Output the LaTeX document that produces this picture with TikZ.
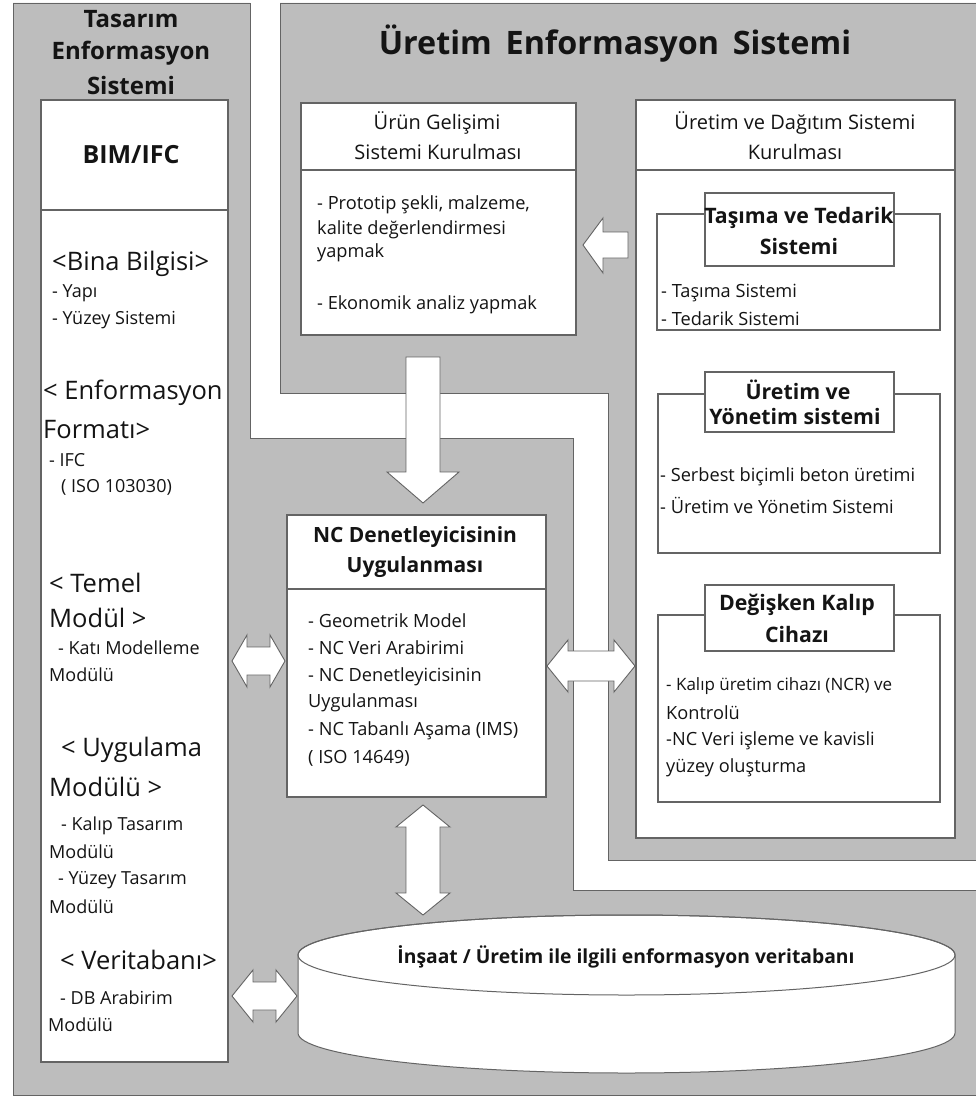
\documentclass[tikz,border=0pt]{standalone}
\usepackage{fontspec}
\setmainfont{Open Sans}
\definecolor{panel}{RGB}{189,189,189}
\definecolor{edge}{RGB}{100,100,100}
\definecolor{ink}{RGB}{20,20,20}
\tikzset{
  region/.style={fill=panel,draw=edge,line width=0.9pt},
  wbox/.style={fill=white,draw=edge,line width=1.1pt,anchor=north west,inner sep=0pt,outer sep=0pt},
  blk/.style={fill=white,draw=edge,line width=0.9pt,line join=miter},
  divline/.style={draw=edge,line width=1.1pt},
  ltxt/.style={inner sep=0pt,anchor=west,text=ink,font=\fontsize{18}{20}\selectfont},
  lbig/.style={inner sep=0pt,anchor=west,text=ink,font=\fontsize{25.5}{28}\selectfont},
  rtxt/.style={inner sep=0pt,anchor=west,text=ink,font=\fontsize{18.2}{20}\selectfont},
  hdr/.style={inner sep=0pt,anchor=center,text=ink,font=\fontsize{20}{22}\selectfont},
  hdrb/.style={inner sep=0pt,anchor=center,text=ink,font=\bfseries\fontsize{21}{23}\selectfont},
  lab/.style={inner sep=0pt,anchor=center,text=ink,font=\bfseries\fontsize{21.3}{23}\selectfont},
}
\newcommand{\hdarrow}[6]{% x1,x2,yc,headhalf,shafthalf,headlen
  \draw[blk] (#1,#3) -- ({#1+#6},{#3-#4}) -- ({#1+#6},{#3-#5}) -- ({#2-#6},{#3-#5}) -- ({#2-#6},{#3-#4}) -- (#2,#3) -- ({#2-#6},{#3+#4}) -- ({#2-#6},{#3+#5}) -- ({#1+#6},{#3+#5}) -- ({#1+#6},{#3+#4}) -- cycle;}
\newcommand{\vdarrow}[6]{% y1,y2,xc,headhalf,shafthalf,headlen
  \draw[blk] (#3,#1) -- ({#3+#4},{#1+#6}) -- ({#3+#5},{#1+#6}) -- ({#3+#5},{#2-#6}) -- ({#3+#4},{#2-#6}) -- (#3,#2) -- ({#3-#4},{#2-#6}) -- ({#3-#5},{#2-#6}) -- ({#3-#5},{#1+#6}) -- ({#3-#4},{#1+#6}) -- cycle;}
\begin{document}
\begin{tikzpicture}[x=1pt,y=-1pt]
\useasboundingbox (0,0) rectangle (976,1102);
\clip (0,0) rectangle (976,1102);
% gray regions
\draw[region] (13,3) -- (250,3) -- (250,438) -- (573,438) -- (573,890) -- (990,890) -- (990,1095) -- (13,1095) -- cycle;
\draw[region] (280,3) -- (990,3) -- (990,860) -- (608,860) -- (608,393) -- (280,393) -- cycle;

% left panel title
\node[inner sep=0pt,text=ink,font=\bfseries\fontsize{24}{26}\selectfont] (tas1) at (131,19) {Tasarım};
\node[inner sep=0pt,text=ink,font=\bfseries\fontsize{24}{26}\selectfont] (tas2) at (131,53) {Enformasyon};
\node[inner sep=0pt,text=ink,font=\bfseries\fontsize{24}{26}\selectfont] (tas3) at (131,86) {Sistemi};

% BIM/IFC box
\node[wbox,minimum width=187pt,minimum height=962pt] (bim) at (41,100) {};
\draw[divline] (41,210) -- (228,210);
\node[inner sep=0pt,text=ink,font=\bfseries\fontsize{25}{28}\selectfont] (bimt) at (131,155) {BIM/IFC};
\node[lbig] (b1) at (52,264) {<Bina Bilgisi>};
\node[ltxt] (b2) at (52,293) {- Yapı};
\node[ltxt] (b3) at (52,320) {- Yüzey Sistemi};
\node[lbig] (b4) at (43,393) {< Enformasyon};
\node[lbig] (b5) at (43,430) {Formatı>};
\node[ltxt] (b6) at (49,460) {- IFC};
\node[ltxt] (b7) at (61,487) {( ISO 103030)};
\node[lbig] (b8) at (49,583) {< Temel};
\node[lbig] (b9) at (49,618) {Modül >};
\node[ltxt] (b10) at (58,648) {- Katı Modelleme};
\node[ltxt] (b11) at (49,675) {Modülü};
\node[lbig] (b12) at (61,750) {< Uygulama};
\node[lbig] (b13) at (49,787) {Modülü >};
\node[ltxt] (b14) at (61,826) {- Kalıp Tasarım};
\node[ltxt] (b15) at (49,852) {Modülü};
\node[ltxt] (b16) at (58,880) {- Yüzey Tasarım};
\node[ltxt] (b17) at (49,907) {Modülü};
\node[lbig] (b18) at (60,960) {< Veritabanı>};
\node[ltxt] (b19) at (60,998) {- DB Arabirim};
\node[ltxt] (b20) at (48,1025) {Modülü};

% Uretim title
\node[inner sep=0pt,text=ink,font=\bfseries\fontsize{32.3}{36}\selectfont] (urt) at (615,44) {Üretim\, Enformasyon\, Sistemi};

% Urun Gelisimi box
\node[wbox,minimum width=275pt,minimum height=232pt] (urun) at (301,103) {};
\draw[divline] (301,170) -- (576,170);
\node[hdr] (u1) at (437,123) {Ürün Gelişimi};
\node[hdr] (u2) at (438,152) {Sistemi Kurulması};
\node[rtxt] (u3) at (317,205) {- Prototip şekli, malzeme,};
\node[rtxt] (u4) at (317,230) {kalite değerlendirmesi};
\node[rtxt] (u5) at (317,253) {yapmak};
\node[rtxt] (u6) at (317,305) {- Ekonomik analiz yapmak};

% Uretim ve Dagitim box
\node[wbox,minimum width=319pt,minimum height=738pt] (dag) at (636,100) {};
\draw[divline] (636,170) -- (955,170);
\node[hdr] (d1) at (795,123) {Üretim ve Dağıtım Sistemi};
\node[hdr] (d2) at (795,152) {Kurulması};

% Tasima sub-box
\node[wbox,minimum width=283pt,minimum height=116pt] (tsm) at (657,214) {};
\node[wbox,minimum width=189pt,minimum height=73pt] (tsml) at (705,193) {};
\node[lab] (t1) at (799,218) {Taşıma ve Tedarik};
\node[lab] (t2) at (799,247) {Sistemi};
\node[rtxt] (t3) at (661,293) {- Taşıma Sistemi};
\node[rtxt] (t4) at (661,319) {- Tedarik Sistemi};

% Uretim ve Yonetim sub-box
\node[wbox,minimum width=282pt,minimum height=159pt] (yon) at (658,394) {};
\node[wbox,minimum width=189pt,minimum height=60pt] (yonl) at (705,372) {};
\node[lab] (y1) at (798,390) {Üretim ve};
\node[lab] (y2) at (795,417) {Yönetim sistemi};
\node[rtxt] (y3) at (660,477) {- Serbest biçimli beton üretimi};
\node[rtxt] (y4) at (660,505) {- Üretim ve Yönetim Sistemi};

% Degisken Kalip sub-box
\node[wbox,minimum width=282pt,minimum height=187pt] (kal) at (658,615) {};
\node[wbox,minimum width=189pt,minimum height=66pt] (kall) at (705,585) {};
\node[lab] (k1) at (797,605) {Değişken Kalıp};
\node[lab] (k2) at (797,635) {Cihazı};
\node[rtxt,font=\fontsize{17}{19}\selectfont] (k3) at (666,686) {- Kalıp üretim cihazı (NCR) ve};
\node[rtxt] (k4) at (666,713) {Kontrolü};
\node[rtxt] (k5) at (666,741) {-NC Veri işleme ve kavisli};
\node[rtxt] (k6) at (666,768) {yüzey oluşturma};

% NC box
\node[wbox,minimum width=259pt,minimum height=282pt] (nc) at (287,515) {};
\draw[divline] (287,589) -- (546,589);
\node[hdrb] (n1) at (415,537) {NC Denetleyicisinin};
\node[hdrb] (n2) at (415,567) {Uygulanması};
\node[rtxt] (n3) at (308,621) {- Geometrik Model};
\node[rtxt] (n4) at (308,648) {- NC Veri Arabirimi};
\node[rtxt] (n5) at (308,677) {- NC Denetleyicisinin};
\node[rtxt] (n6) at (308,703) {Uygulanması};
\node[rtxt] (n7) at (308,731) {- NC Tabanlı Aşama (IMS)};
\node[rtxt] (n8) at (308,758) {( ISO 14649)};

% database cylinder
\filldraw[fill=white,draw=edge,line width=1pt] (298,955) -- (298,1033) arc[start angle=180,end angle=360,x radius=328.5pt,y radius=40pt] -- (955,955) arc[start angle=0,end angle=180,x radius=328.5pt,y radius=40pt] -- cycle;
\draw[edge,line width=1pt] (626.5,955) ellipse[x radius=328.5pt,y radius=40pt];
\node[inner sep=0pt,text=ink,font=\bfseries\fontsize{19.3}{21}\selectfont] (db) at (626,957) {İnşaat / Üretim ile ilgili enformasyon veritabanı};

% block arrows
% left single arrow (dag -> urun)
\draw[blk] (583,245) -- (603,218) -- (603,232) -- (628,232) -- (628,258) -- (603,258) -- (603,273) -- cycle;
% down arrow (urun -> nc)
\draw[blk] (423,503) -- (387,472) -- (406,472) -- (406,357) -- (440,357) -- (440,472) -- (459,472) -- cycle;
% double arrows
\hdarrow{232}{285}{661}{26}{14}{15}
\hdarrow{547}{635}{666}{26}{15}{21}
\hdarrow{232}{297}{996}{26}{14}{21}
\vdarrow{805}{915}{423}{27}{17}{22}
\end{tikzpicture}
\end{document}
